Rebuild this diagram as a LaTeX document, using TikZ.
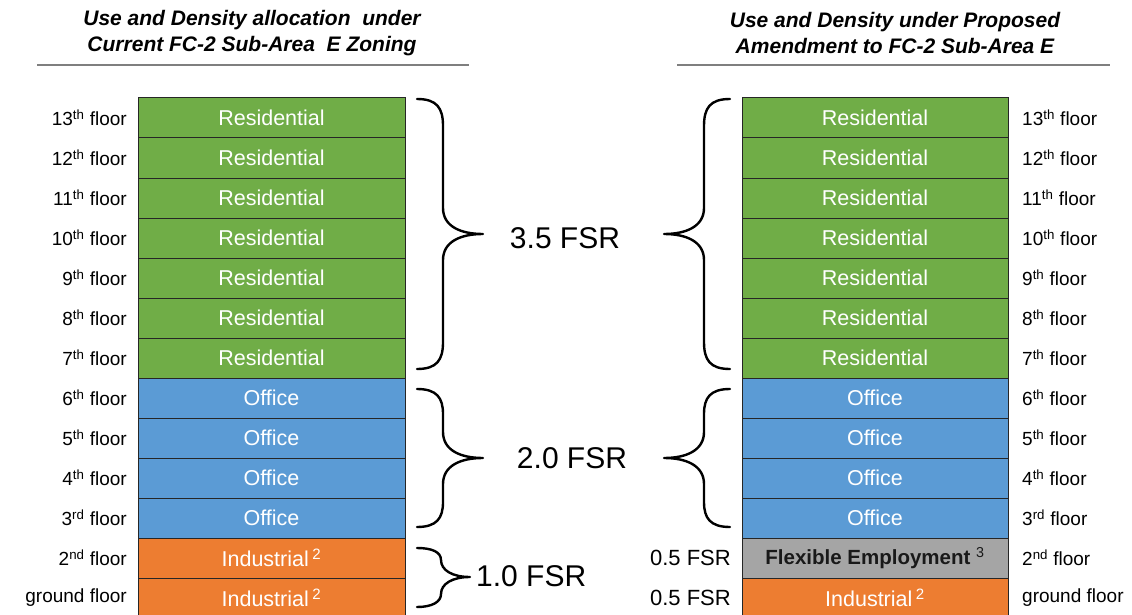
\documentclass[tikz,border=0pt]{standalone}
\usepackage{fontspec}
\setmainfont{Liberation Sans}
\definecolor{resg}{HTML}{70AD47}
\definecolor{offb}{HTML}{5B9BD5}
\definecolor{indo}{HTML}{ED7D31}
\definecolor{flexg}{HTML}{A5A5A5}
\definecolor{rulegray}{HTML}{7F7F7F}
\begin{document}
\begin{tikzpicture}[x=1pt,y=-1pt,
  box/.style={draw=black!85, line width=1pt, minimum height=40pt, inner sep=0pt, text=white, font=\fontsize{21.5}{24}\selectfont},
  lbox/.style={box, minimum width=267pt},
  rbox/.style={box, minimum width=266pt},
  floorlbl/.style={font=\fontsize{19}{22}\selectfont, inner sep=0pt},
  ttl/.style={font=\fontsize{21}{26}\selectfont\bfseries\itshape, align=center},
  fsr/.style={font=\fontsize{30}{32}\selectfont, inner sep=0pt},
  fsrs/.style={font=\fontsize{22}{24}\selectfont, inner sep=0pt},
  bracestyle/.style={line width=2.4pt, line cap=round, line join=round}
]
\useasboundingbox (0,0) rectangle (1132,615);

% titles
\node[ttl] (tl) at (252,33) {Use and Density allocation\ \ under\\Current FC-2 Sub-Area\ \ E Zoning};
\node[ttl] (tr) at (895,33) {Use and Density under Proposed\\Amendment to FC-2 Sub-Area E};
\draw[rulegray, line width=1.2pt] (37,65) -- (469,65);
\draw[rulegray, line width=1.2pt] (677,65) -- (1110,65);

% boxes
\foreach \n/\ord in {13/th,12/th,11/th,10/th,9/th,8/th,7/th}{
  \pgfmathsetmacro{\yc}{118+(13-\n)*40}
  \node[lbox, fill=resg] (L\n) at (271.5,\yc) {Residential};
  \node[rbox, fill=resg] (R\n) at (875,\yc) {Residential};
  \node[floorlbl, anchor=east] (LF\n) at (127,\yc) {\n\textsuperscript{\ord} floor};
  \node[floorlbl, anchor=west] (RF\n) at (1022,\yc) {\n\textsuperscript{\ord} floor};
}
\foreach \n/\ord in {6/th,5/th,4/th,3/rd}{
  \pgfmathsetmacro{\yc}{118+(13-\n)*40}
  \node[lbox, fill=offb] (L\n) at (271.5,\yc) {Office};
  \node[rbox, fill=offb] (R\n) at (875,\yc) {Office};
  \node[floorlbl, anchor=east] (LF\n) at (127,\yc) {\n\textsuperscript{\ord} floor};
  \node[floorlbl, anchor=west] (RF\n) at (1022,\yc) {\n\textsuperscript{\ord} floor};
}
\node[lbox, fill=indo] (L2) at (271.5,558) {Industrial\,\textsuperscript{2}};
\node[lbox, fill=indo] (L1) at (271.5,598) {Industrial\,\textsuperscript{2}};
\node[rbox, fill=flexg, text=black!90, font=\fontsize{20.5}{24}\selectfont\bfseries] (R2) at (875,558) {Flexible Employment\ \textsuperscript{\normalfont 3}};
\node[rbox, fill=indo] (R1) at (875,598) {Industrial\,\textsuperscript{2}};
\node[floorlbl, anchor=east] (LF2) at (127,558) {2\textsuperscript{nd} floor};
\node[floorlbl, anchor=east] (LF1) at (127,598) {ground floor};
\node[floorlbl, anchor=west] (RF2) at (1022,558) {2\textsuperscript{nd} floor};
\node[floorlbl, anchor=west] (RF1) at (1022,598) {ground floor};

% FSR labels
\node[fsr] (f35) at (565,238) {3.5 FSR};
\node[fsr] (f20) at (572,458) {2.0 FSR};
\node[fsr, anchor=west] (f10) at (476,576) {1.0 FSR};
\node[fsrs, anchor=east] (f05a) at (731,558) {0.5 FSR};
\node[fsrs, anchor=east] (f05b) at (731,598) {0.5 FSR};

% braces: right-facing (left side)
\draw[bracestyle] (417,99) .. controls (437,99) and (443,108) .. (443,126) -- (443,208)
  .. controls (443,226) and (460,234) .. (483,234)
  .. controls (460,234) and (443,242) .. (443,260) -- (443,342)
  .. controls (443,360) and (437,369) .. (417,369);
\draw[bracestyle] (417,389) .. controls (437,389) and (443,398) .. (443,414) -- (443,432)
  .. controls (443,450) and (460,458) .. (483,458)
  .. controls (460,458) and (443,466) .. (443,484) -- (443,502)
  .. controls (443,518) and (437,527) .. (417,527);
\draw[bracestyle] (417,548) .. controls (432,548) and (441,552) .. (441,560)
  .. controls (441,570) and (452,577) .. (470,577)
  .. controls (452,577) and (441,584) .. (441,594)
  .. controls (441,602) and (432,607) .. (417,607);

% braces: left-facing (right side)
\draw[bracestyle] (730,99) .. controls (710,99) and (704,108) .. (704,126) -- (704,208)
  .. controls (704,226) and (687,234) .. (664,234)
  .. controls (687,234) and (704,242) .. (704,260) -- (704,342)
  .. controls (704,360) and (710,369) .. (730,369);
\draw[bracestyle] (730,389) .. controls (710,389) and (704,398) .. (704,414) -- (704,432)
  .. controls (704,450) and (687,458) .. (664,458)
  .. controls (687,458) and (704,466) .. (704,484) -- (704,502)
  .. controls (704,518) and (710,527) .. (730,527);
\end{tikzpicture}
\end{document}
